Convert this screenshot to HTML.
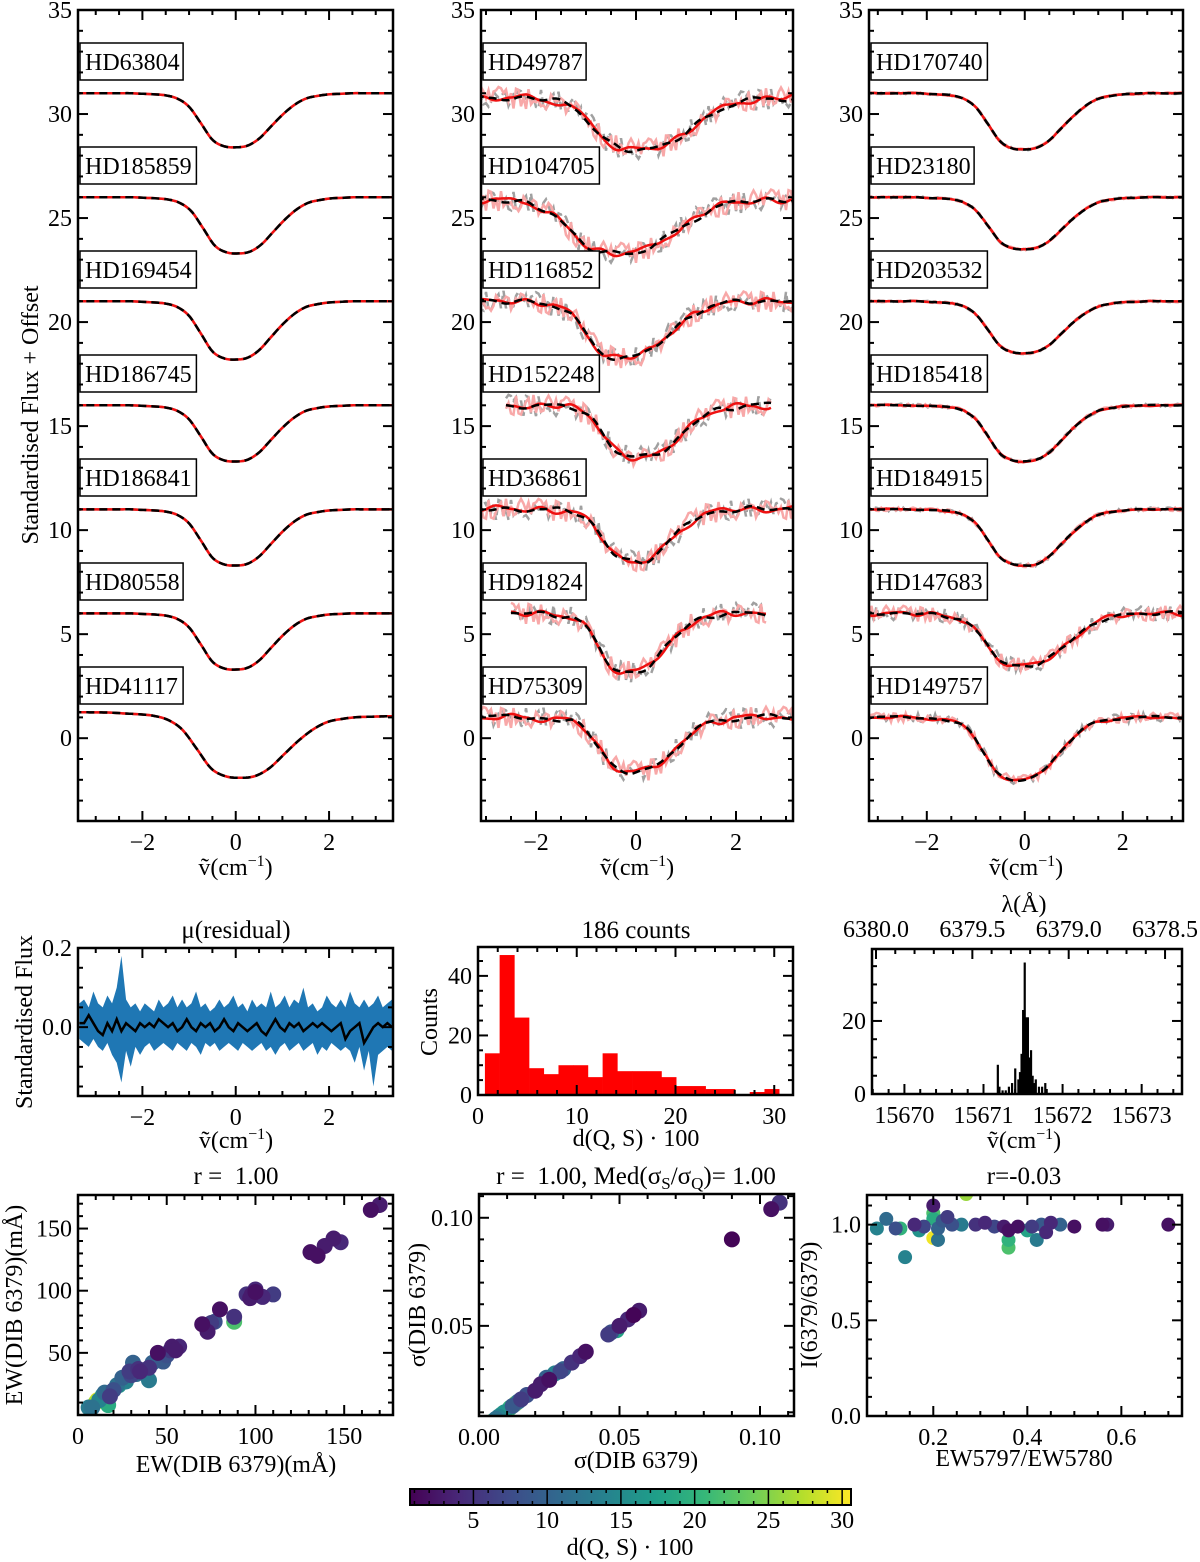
<!DOCTYPE html>
<html><head><meta charset="utf-8">
<style>
html,body{margin:0;padding:0;background:#fff;}
svg{display:block;font-family:"Liberation Serif",serif;}
</style></head>
<body>
<svg id="fig" width="1200" height="1562" viewBox="0 0 1200 1562" xmlns="http://www.w3.org/2000/svg"></svg>
<script>
// ---------- DATA ----------
const shapeX = [-3.5,-3.25,-3,-2.75,-2.5,-2.25,-2,-1.75,-1.5,-1.25,-1,-0.75,-0.5,-0.25,0,0.25,0.5,0.75,1,1.25,1.5,1.75,2,2.25,2.5,2.75,3,3.25,3.5];
const shapeY = [0,0,0,0,0,0,0.01,0.02,0.04,0.1,0.25,0.55,0.86,0.98,1,0.97,0.84,0.62,0.4,0.22,0.1,0.05,0.02,0.01,0,0,0,0,0];
const wiggle = [0.2,-0.5,0.8,0.3,-0.7,0.1,0.9,-0.3,-0.8,0.4,0.6,-0.2,-0.9,0.5,0.2,-0.4,0.7,-0.6,0.3,0.8,-0.1,-0.7,0.5,-0.3,0.9,0.1,-0.5,0.6,-0.8,0.2,0.4,-0.6,0.7,-0.2,-0.4,0.8,0.0,-0.9,0.3,0.6,-0.3,0.5,-0.7,0.1,0.8,-0.5,0.2,-0.1,0.6,-0.8,0.4,0.7,-0.4,0.0,-0.6,0.9,-0.2,0.3,-0.7,0.5];
const col1Names = ["HD63804","HD185859","HD169454","HD186745","HD186841","HD80558","HD41117"];
const col1Cont  = [31,26,21,16,11,6,1.15];
const col1Depth = [2.6,2.7,2.8,2.7,2.7,2.7,3.05];
const col1Center= [0,0.05,0,0,0,0,0.1];
const col1Width = [1,1,1,1,1,1,1.25];
const col1Tilt  = [0,0,0,0,0,0,-0.03];
const col1Noise = [0,0,0,0,0,0,0];
const col2Names = ["HD49787","HD104705","HD116852","HD152248","HD36861","HD91824","HD75309"];
const col2Cont  = [30.8,25.9,21,16,11,6,1];
const col2Depth = [2.5,2.6,2.7,2.5,2.5,2.8,2.6];
const col2Center= [0.1,-0.3,-0.2,0.1,0,-0.1,0];
const col2Width = [1.3,1.4,1.1,1.0,0.9,0.9,1.0];
const col2Tilt  = [0,0,0,0,0,0,0];
const col2Noise = [0.35,0.35,0.35,0.35,0.35,0.35,0.35];
const col2Min   = [-3.2,-3.2,-3.2,-2.6,-3.2,-2.5,-3.2];
const col2Max   = [3.2,3.2,3.2,2.7,3.2,2.6,3.2];
const col3Names = ["HD170740","HD23180","HD203532","HD185418","HD184915","HD147683","HD149757"];
const col3Cont  = [31,26,21,16,11,6,1];
const col3Depth = [2.7,2.5,2.5,2.7,2.7,2.5,3.0];
const col3Center= [0,0,0,0,0,0,-0.1];
const col3Width = [1,1,1,1,1,1.1,1.0];
const col3Tilt  = [0,0,0,0,0,0,0];
const col3Noise = [0.03,0.03,0.03,0.05,0.06,0.25,0.15];
const resUpper = [0.06,0.07,0.05,0.09,0.06,0.05,0.08,0.06,0.10,0.18,0.07,0.05,0.06,0.04,0.06,0.05,0.04,0.07,0.05,0.06,0.08,0.05,0.07,0.05,0.06,0.09,0.05,0.06,0.04,0.05,0.07,0.05,0.06,0.08,0.05,0.06,0.04,0.07,0.05,0.06,0.05,0.09,0.05,0.06,0.08,0.05,0.07,0.06,0.10,0.05,0.06,0.04,0.05,0.08,0.06,0.05,0.07,0.05,0.09,0.06,0.05,0.07,0.05,0.06,0.08,0.05,0.06,0.07];
const resLower = [-0.03,-0.04,-0.05,-0.03,-0.05,-0.06,-0.04,-0.07,-0.09,-0.14,-0.06,-0.10,-0.05,-0.07,-0.05,-0.04,-0.06,-0.05,-0.04,-0.05,-0.06,-0.04,-0.05,-0.06,-0.04,-0.05,-0.07,-0.04,-0.05,-0.04,-0.06,-0.05,-0.04,-0.05,-0.06,-0.04,-0.05,-0.06,-0.05,-0.04,-0.06,-0.05,-0.07,-0.05,-0.04,-0.06,-0.05,-0.04,-0.06,-0.05,-0.04,-0.07,-0.05,-0.06,-0.04,-0.05,-0.06,-0.05,-0.06,-0.09,-0.05,-0.11,-0.06,-0.15,-0.07,-0.06,-0.05,-0.06];
const resMean = [0.01,0.01,0.03,0.01,-0.01,-0.02,0.01,-0.01,0.02,-0.01,0.01,0,-0.01,0.01,0,0.01,0,0.02,0.01,0,0.01,-0.01,0,0.02,0,-0.01,0.01,0,0.01,-0.01,0,0.02,0,-0.01,0.01,0,-0.01,0,0.01,-0.01,-0.02,0,0.02,0,-0.01,0.01,0,0.01,-0.01,0,0.01,0,0.01,0,-0.01,0,0.01,-0.03,-0.01,0,0.01,-0.04,-0.02,0,0.01,0,0.01,0];
const histStart = 0.7, histWidth = 1.49;
const histCounts = [14,47,26,9,7,10,10,6,14,8,8,8,6,3,3,2,2,0,1,2];
const nuBins = [15671.18,15671.2,15671.24,15671.28,15671.32,15671.36,15671.4,15671.44,15671.46,15671.48,15671.5,15671.52,15671.54,15671.56,15671.58,15671.6,15671.62,15671.64,15671.66,15671.7,15671.74,15671.78];
const nuCounts = [8,2,1,1,2,3,7,4,6,11,23,36,21,21,10,12,5,3,4,2,2,3];
const lambdaTicks = [6380.0,6379.5,6379.0,6378.5];
const s1x = [165,170,131,135,139,144,148,95,100,97,100,104,110,98,80,88,70,73,75,77,88,45,50,52,53,47,40,35,31,30,25,27,20,22,15,18,10,12,8,6,40,26,42,34,55,57,48,33,23,14,11,17,29];
const s1y = [165,169,131,128,136,142,139,97,101,94,99,95,97,97,85,79,73,67,74,75,75,50,48,52,55,45,38,35,42,32,30,27,20,24,18,15,10,12,6,6,28,27,42,37,52,55,43,33,24,16,12,8,35];
const s1c = [2,3,2,2,3,3,4,5,4,3,2,4,6,3,2,5,2,3,6,8,22,2,8,6,3,18,5,4,10,7,10,14,8,12,11,6,27,14,12,13,13,22,10,5,3,4,9,11,16,15,29,19,6];
const s2x = [0.107,0.104,0.09,0.057,0.055,0.053,0.05,0.049,0.047,0.046,0.038,0.036,0.033,0.03,0.029,0.027,0.025,0.022,0.02,0.017,0.015,0.014,0.012,0.011,0.009,0.008,0.007,0.006,0.005,0.004,0.0045,0.013,0.024];
const s2y = [0.107,0.104,0.09,0.057,0.055,0.053,0.05,0.048,0.047,0.046,0.038,0.036,0.033,0.03,0.029,0.028,0.025,0.023,0.02,0.018,0.016,0.015,0.013,0.012,0.01,0.009,0.008,0.007,0.006,0.005,0.0052,0.014,0.026];
const s2c = [5,2,1,3,1,4,3,18,8,6,2,4,5,10,7,14,2,3,3,8,6,12,9,20,16,18,14,12,22,19,30,24,10];
const s3x = [0.08,0.10,0.13,0.12,0.14,0.16,0.17,0.18,0.2,0.2,0.2,0.2,0.21,0.21,0.22,0.23,0.24,0.26,0.27,0.29,0.31,0.33,0.35,0.36,0.36,0.36,0.38,0.4,0.42,0.43,0.45,0.47,0.5,0.56,0.57,0.7,0.41,0.44];
const s3y = [0.98,1.03,0.98,0.98,0.83,1.0,0.97,0.99,1.1,1.06,1.03,0.93,0.92,0.98,1.02,1.04,1.0,1.0,1.16,1.0,1.01,0.99,0.99,0.97,0.92,0.88,0.99,0.97,0.92,1.0,1.01,1.0,0.99,1.0,1.0,1.0,0.99,0.96];
const s3c = [14,11,20,8,14,4,16,7,3,22,19,30,12,10,9,6,8,13,26,5,4,7,3,2,20,22,2,18,13,9,4,10,2,2,3,2,6,4];

// ---------- HELPERS ----------
const NS="http://www.w3.org/2000/svg";
const svg=document.getElementById('fig');
const FS=24;
function el(tag,attrs,parent){const e=document.createElementNS(NS,tag);for(const k in attrs)e.setAttribute(k,attrs[k]);(parent||svg).appendChild(e);return e;}
function txt(s,x,y,size,anchor,parent,rot){const t=el('text',{x:x,y:y,'font-size':size,'text-anchor':anchor||'middle',fill:'#000'},parent);if(rot)t.setAttribute('transform','rotate(-90 '+x+' '+y+')');t.textContent=s;return t;}
const VIR=[[68,1,84],[72,40,120],[62,74,137],[49,104,142],[38,130,142],[31,158,137],[53,183,121],[109,205,89],[180,222,44],[253,231,37]];
function viridis(v){const t=Math.max(0,Math.min(1,(v-0.7)/(30.6-0.7)))*(VIR.length-1);const i=Math.min(VIR.length-2,Math.floor(t));const f=t-i;const c=VIR[i].map((a,k)=>Math.round(a+(VIR[i+1][k]-a)*f));return 'rgb('+c.join(',')+')';}
function axes(x0,y0,x1,y1,xmin,xmax,ymin,ymax){
  const sx=v=>x0+(v-xmin)/(xmax-xmin)*(x1-x0);
  const sy=v=>y1-(v-ymin)/(ymax-ymin)*(y1-y0);
  return {x0,y0,x1,y1,xmin,xmax,ymin,ymax,sx,sy};
}
function ticks(p,g,xMaj,xMin,yMaj,yMin,opt){
  opt=opt||{};
  const L=10,S=5,eps=1e-9;
  for(let v=Math.ceil(p.xmin/xMin-eps)*xMin; v<=p.xmax+eps; v+=xMin){
    const major=Math.abs(v/xMaj-Math.round(v/xMaj))<1e-6; const X=p.sx(v); const l=major?L:S;
    el('line',{x1:X,y1:p.y1,x2:X,y2:p.y1-l,stroke:'#000','stroke-width':2},g);
    if(!opt.noTopX) el('line',{x1:X,y1:p.y0,x2:X,y2:p.y0+l,stroke:'#000','stroke-width':2},g);
    if(major && opt.xfmt){const t=txt(opt.xfmt(v),X,p.y1+29,FS,'middle',g);}
  }
  for(let v=Math.ceil(p.ymin/yMin-eps)*yMin; v<=p.ymax+eps; v+=yMin){
    const major=Math.abs(v/yMaj-Math.round(v/yMaj))<1e-6; const Y=p.sy(v); const l=major?L:S;
    el('line',{x1:p.x0,y1:Y,x2:p.x0+l,y2:Y,stroke:'#000','stroke-width':2},g);
    el('line',{x1:p.x1,y1:Y,x2:p.x1-l,y2:Y,stroke:'#000','stroke-width':2},g);
    if(major && opt.yfmt){const t=txt(opt.yfmt(v),p.x0-6,Y+8,FS,'end',g);}
  }
}
function frame(p,g){el('rect',{x:p.x0,y:p.y0,width:p.x1-p.x0,height:p.y1-p.y0,fill:'none',stroke:'#000','stroke-width':2.5},g);}
function clip(p,id){const c=el('clipPath',{id:id});el('rect',{x:p.x0,y:p.y0,width:p.x1-p.x0,height:p.y1-p.y0},c);return 'url(#'+id+')';}
function shapeAt(x){
  if(x<=shapeX[0])return shapeY[0]; if(x>=shapeX[shapeX.length-1])return shapeY[shapeY.length-1];
  const i=Math.floor((x-shapeX[0])/0.25); const f=(x-shapeX[i])/0.25;
  const y0=shapeY[Math.max(0,i-1)],y1=shapeY[i],y2=shapeY[i+1],y3=shapeY[Math.min(shapeY.length-1,i+2)];
  return 0.5*((2*y1)+(-y0+y2)*f+(2*y0-5*y1+4*y2-y3)*f*f+(-y0+3*y1-3*y2+y3)*f*f*f);
}
function wig(x,off,step){const t=(x+4)/step+off;const i=Math.floor(t);const f=t-i;const m=(1-Math.cos(f*Math.PI))/2;const a=wiggle[((i%60)+60)%60],b=wiggle[(((i+1)%60)+60)%60];return a*(1-m)+b*m;}
function jit(x,off){const i=Math.round((x+4)/0.05)+off;return wiggle[((i*7)%60+60)%60];}
function xlabel(cx,y,g){
  const t=el('text',{x:cx,y:y,'font-size':FS,'text-anchor':'middle'},g);
  
  t.appendChild(document.createTextNode('ṽ(cm'));
  const s=el('tspan',{dy:-9,'font-size':16},t);s.textContent='−1';
  const s2=el('tspan',{dy:9},t);s2.textContent=')';
}
const fmtInt=v=>{const r=Math.round(v);return r<0?'−'+(-r):''+r;};

// ---------- TOP SPECTRA PANELS ----------
function spectraPanel(idx,p,names,cont,depth,center,width,tilt,noise,xmn,xmx){
  const g=el('g',{});
  
  
  const cp=clip(p,'c'+idx);
  const dg=el('g',{'clip-path':cp},g);
  names.forEach((nm,k)=>{
    const base=x=>cont[k]+tilt[k]*x-depth[k]*shapeAt((x-center[k])/width[k]);
    const a=xmn?xmn[k]:p.xmin-0.1, b=xmx?xmx[k]:p.xmax+0.1;
    let pr=[],pg=[],rl=[],bl=[];
    for(let x=a;x<=b+1e-9;x+=0.05){
      pr.push(p.sx(x)+','+p.sy(base(x)+noise[k]*1.6*jit(x,k*11)));
      pg.push(p.sx(x)+','+p.sy(base(x)+noise[k]*1.6*jit(x,k*11+23)));
      rl.push(p.sx(x)+','+p.sy(base(x)+noise[k]*0.6*wig(x,k*5,0.3)));
      bl.push(p.sx(x)+','+p.sy(base(x)+noise[k]*0.5*wig(x,k*5+17,0.35)));
    }
    const e1=el('polyline',{points:pg.join(' '),fill:'none',stroke:'#a0a0a0','stroke-width':2.5,'stroke-dasharray':'8,4'},dg);
    
    const e2=el('polyline',{points:pr.join(' '),fill:'none',stroke:'#f8a8a8','stroke-width':2.5},dg);
    
    const e3=el('polyline',{points:rl.join(' '),fill:'none',stroke:'#ee1111','stroke-width':2.5},dg);
    
    const e4=el('polyline',{points:bl.join(' '),fill:'none',stroke:'#000','stroke-width':2.5,'stroke-dasharray':'8,5'},dg);
    
    const by=43+104*k;
    const w=nm.length*13.3+10;
    const r=el('rect',{x:p.x0+2,y:by,width:w,height:37,fill:'#fff',stroke:'#000','stroke-width':1.5},g);
    
    const t=txt(nm,p.x0+7,by+27,FS,'start',g);
    
  });
  ticks(p,g,2,0.5,5,1,{xfmt:fmtInt,yfmt:fmtInt});
  frame(p,g);
  xlabel((p.x0+p.x1)/2,875,g);
}
const P1=axes(78,10,393,821,-3.38,3.37,-3.98,35);
const P2=axes(481,10,793,821,-3.1,3.14,-3.98,35);
const P3=axes(869,10,1183,821,-3.18,3.23,-3.98,35);
spectraPanel(0,P1,col1Names,col1Cont,col1Depth,col1Center,col1Width,col1Tilt,col1Noise);
spectraPanel(1,P2,col2Names,col2Cont,col2Depth,col2Center,col2Width,col2Tilt,col2Noise,col2Min,col2Max);
spectraPanel(2,P3,col3Names,col3Cont,col3Depth,col3Center,col3Width,col3Tilt,col3Noise);
{const t=txt('Standardised Flux + Offset',38,415,FS,'middle',svg,true);}

// ---------- RESIDUAL PANEL ----------
{
  const p=axes(78,948,393,1096,-3.38,3.37,-0.174,0.2);
  const g=el('g',{});
  const cp=clip(p,'cres');const dg=el('g',{'clip-path':cp},g);
  const xs=resMean.map((_,i)=>-3.35+i*0.1);
  let pts=xs.map((x,i)=>p.sx(x)+','+p.sy(resUpper[i])).concat(xs.slice().reverse().map((x,j)=>{const i=xs.length-1-j;return p.sx(x)+','+p.sy(resLower[i]);}));
  const band=el('polygon',{points:pts.join(' '),fill:'#1f77b4'},dg);
  
  const ln=el('polyline',{points:xs.map((x,i)=>p.sx(x)+','+p.sy(resMean[i])).join(' '),fill:'none',stroke:'#000','stroke-width':2.5},dg);
  
  ticks(p,g,2,0.5,0.2,0.05,{xfmt:fmtInt,yfmt:v=>Math.abs(v)<1e-6?'0.0':v.toFixed(1)});
  frame(p,g);
  xlabel(236,1148,g);
  const t=txt('μ(residual)',236,938,25,'middle',g);
  const t2=txt('Standardised Flux',32,1022,FS,'middle',g,true);
}

// ---------- d(Q,S) HISTOGRAM ----------
{
  const p=axes(478,947,793,1095,0,31.9,0,49.7);
  const g=el('g',{});
  histCounts.forEach((c,i)=>{
    const a=histStart+i*histWidth;
    if(c<=0)return;
    const r=el('rect',{x:p.sx(a),y:p.sy(c),width:p.sx(a+histWidth)-p.sx(a)+0.3,height:p.sy(0)-p.sy(c),fill:'#ff0000'},g);
    
  });
  ticks(p,g,10,2,20,5,{xfmt:fmtInt,yfmt:fmtInt});
  frame(p,g);
  const t=txt('d(Q, S) · 100',636,1146,FS,'middle',g);
  const t1=txt('186 counts',636,938,25,'middle',g);
  const t2=txt('Counts',437,1022,FS,'middle',g,true);
}

// ---------- WAVENUMBER HISTOGRAM ----------
{
  const p=axes(872,949,1182,1094,15669.59,15673.51,0,39.7);
  const g=el('g',{});
  nuBins.forEach((b,i)=>{
    const r=el('rect',{x:p.sx(b)-1,y:p.sy(nuCounts[i]),width:2.2,height:p.sy(0)-p.sy(nuCounts[i]),fill:'#000'},g);
    
  });
  ticks(p,g,1,0.2,20,5,{xfmt:v=>''+Math.round(v),yfmt:fmtInt,noTopX:true});
  const lx=l=>876+(6380.0-l)*192.7;
  for(let k=-2;k<=18;k++){const l=6380.0-k*0.1;const X=lx(l);if(X<p.x0||X>p.x1)continue;const major=((k%5)+5)%5===0;
    el('line',{x1:X,y1:p.y0,x2:X,y2:p.y0+(major?10:5),stroke:'#000','stroke-width':2},g);}
  lambdaTicks.forEach(l=>{const t=txt(l.toFixed(1),lx(l),937,FS,'middle',g);});
  frame(p,g);
  xlabel(1024,1148,g);
  const t=txt('λ(Å)',1024,912,FS,'middle',g);
}

// ---------- SCATTERS ----------
function scatter(name,p,xs,ys,cs,r){
  const g=el('g',{});
  const dg=el('g',{'clip-path':clip(p,'c'+name)},g);
  const order=cs.map((c,i)=>i).sort((a,b)=>cs[b]-cs[a]);
  order.forEach(i=>{
    const c=el('circle',{cx:p.sx(xs[i]),cy:p.sy(ys[i]),r:r,fill:viridis(cs[i])},dg);
    
  });
  return g;
}
{
  const p=axes(78,1195,393,1415,0,177.5,0,177);
  const g=scatter('ew-scatter',p,s1x,s1y,s1c,8);
  ticks(p,g,50,10,50,10,{xfmt:fmtInt,yfmt:v=>v===0?'':fmtInt(v)});
  frame(p,g);
  const t=txt('EW(DIB 6379)(mÅ)',236,1472,FS,'middle',g);
  const t2=txt('EW(DIB 6379)(mÅ)',22,1305,FS,'middle',g,true);
  const t3=txt('r =\u00a0\u00a01.00',236,1184,25,'middle',g);
}
{
  const p=axes(479,1194,794,1416,0,0.1121,0.0083,0.111);
  const g=scatter('sigma-scatter',p,s2x,s2y,s2c,8);
  ticks(p,g,0.05,0.01,0.05,0.01,{xfmt:v=>v.toFixed(2),yfmt:v=>v<0.01?'':v.toFixed(2)});
  frame(p,g);
  const t=txt('σ(DIB 6379)',636,1468,FS,'middle',g);
  const t2=txt('σ(DIB 6379)',425,1305,FS,'middle',g,true);
  const t3=el('text',{x:636,y:1184,'font-size':25,'text-anchor':'middle'},g);
  t3.appendChild(document.createTextNode('r =\u00a0\u00a01.00, Med(σ'));
  let s=el('tspan',{dy:5,'font-size':17},t3);s.textContent='S';
  s=el('tspan',{dy:-5},t3);s.textContent='/σ';
  s=el('tspan',{dy:5,'font-size':17},t3);s.textContent='Q';
  s=el('tspan',{dy:-5},t3);s.textContent=')= 1.00';
}
{
  const p=axes(867,1195,1182,1416,0.059,0.729,0,1.155);
  const g=scatter('ratio-scatter',p,s3x,s3y,s3c,7);
  ticks(p,g,0.2,0.05,0.5,0.1,{xfmt:v=>v.toFixed(1),yfmt:v=>v.toFixed(1)});
  frame(p,g);
  const t=txt('EW5797/EW5780',1024,1466,FS,'middle',g);
  const t2=txt('I(6379/6379)',817,1305,FS,'middle',g,true);
  const t3=txt('r=-0.03',1024,1184,25,'middle',g);
}

// ---------- COLORBAR ----------
{
  const g=el('g',{});
  const defs=el('defs',{},g);
  const lg=el('linearGradient',{id:'vir',x1:0,x2:1,y1:0,y2:0},defs);
  VIR.forEach((c,i)=>el('stop',{offset:(i/(VIR.length-1)),'stop-color':'rgb('+c.join(',')+')'},lg));
  el('rect',{x:410,y:1489,width:441,height:16,fill:'url(#vir)',stroke:'#000','stroke-width':2},g);
  const cx=v=>410+(v-0.7)/(30.6-0.7)*441;
  for(let v=1;v<=30;v++){const X=cx(v);const major=v%5===0;
    el('line',{x1:X,y1:1505,x2:X,y2:1505-(major?8:4),stroke:'#000','stroke-width':1.5},g);
    el('line',{x1:X,y1:1489,x2:X,y2:1489+(major?8:4),stroke:'#000','stroke-width':1.5},g);
    if(major){const t=txt(''+v,X,1528,FS,'middle',g);}}
  const t=txt('d(Q, S) · 100',630,1555,FS,'middle',g);
}
</script>
</body></html>
